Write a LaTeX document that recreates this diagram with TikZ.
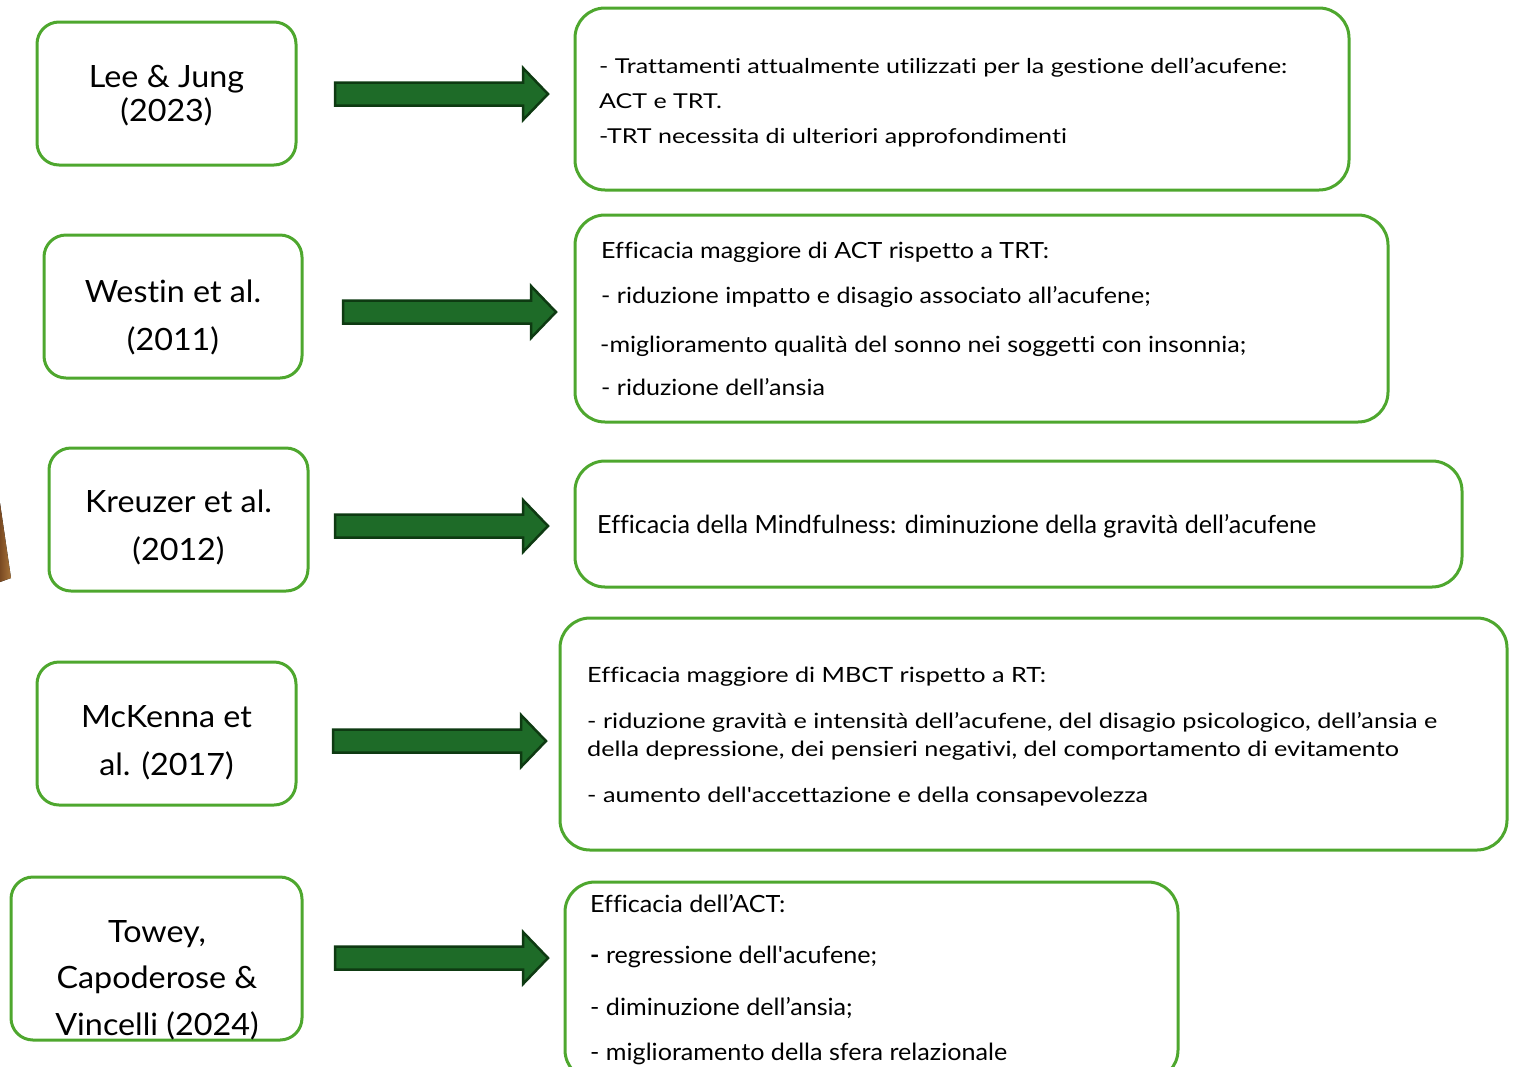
\documentclass[tikz,border=0pt]{standalone}
\usepackage{fontspec}
\setmainfont{Lato}[Ligatures={TeX,NoCommon}]
\usepackage{graphicx}
\definecolor{boxgreen}{HTML}{4EA72E}
\definecolor{arrfill}{HTML}{1E6B28}
\definecolor{arrline}{HTML}{0E3A12}
\definecolor{woodA}{HTML}{7A4A22}
\definecolor{woodB}{HTML}{A8743A}
\newlength\reflen
\newcommand\calcsx[3]{\settowidth\reflen{#2}\pgfmathsetmacro#1{#3/\reflen}}
\newcommand\stxt[3]{\scalebox{#2}[1]{\fontsize{#1}{#1}\selectfont #3}}
\AtBeginDocument{%
\calcsx\sL{\fontsize{30.7}{30.7}\selectfont Kreuzer et al.}{187}%
\calcsx\sA{\fontsize{20.5}{20.5}\selectfont - Trattamenti attualmente utilizzati per la gestione dell’acufene:}{688}%
\calcsx\sB{\fontsize{22.3}{22.3}\selectfont -miglioramento qualità del sonno nei soggetti con insonnia;}{646}%
\calcsx\sC{\fontsize{25}{25}\selectfont Efficacia della Mindfulness: diminuzione della gravità dell’acufene}{719}%
\calcsx\sD{\fontsize{21}{21}\selectfont - riduzione gravità e intensità dell’acufene, del disagio psicologico, dell’ansia e}{850}%
\calcsx\sE{\fontsize{23.7}{23.7}\selectfont - miglioramento della sfera relazionale}{417}%
}
\tikzset{
  lbox/.style={draw=boxgreen, line width=3pt, rounded corners=22pt, inner sep=0pt},
  rbox/.style={draw=boxgreen, line width=3pt, rounded corners=30pt, inner sep=0pt},
  rline/.style={anchor=base west, inner sep=0pt},
  lline/.style={anchor=base, inner sep=0pt},
  blockarr/.pic={\draw[draw=arrline, fill=arrfill, line width=2.5pt, line join=miter]
     (0,-11.5) -- (188,-11.5) -- (188,-26) -- (213,0) -- (188,26) -- (188,11.5) -- (0,11.5) -- cycle;}
}
\begin{document}
\begin{tikzpicture}[x=1pt,y=-1pt]
\useasboundingbox (0,0) rectangle (1514,1066);

% wood sliver
\fill[left color=woodA, right color=woodB] (0,503) -- (11,578) -- (0,582) -- cycle;

% left boxes
\node[lbox, minimum width=259pt, minimum height=143pt] (L1) at (166.5,93.5) {};
\node[lbox, minimum width=258pt, minimum height=143pt] (L2) at (173,306.5) {};
\node[lbox, minimum width=259pt, minimum height=143pt] (L3) at (178.5,519.5) {};
\node[lbox, minimum width=259pt, minimum height=143pt] (L4) at (166.5,733.5) {};
\node[lbox, minimum width=291pt, minimum height=163pt] (L5) at (156.5,958.5) {};

\node[lline] (L1a) at (166.5,87) {\stxt{30.7}{\sL}{Lee \& Jung}};
\node[lline] (L1b) at (166.5,121) {\stxt{30.7}{\sL}{(2023)}};
\node[lline] (L2a) at (173,302) {\stxt{30.7}{\sL}{Westin et al.}};
\node[lline] (L2b) at (173,350) {\stxt{30.7}{\sL}{(2011)}};
\node[lline] (L3a) at (178.5,512) {\stxt{30.7}{\sL}{Kreuzer et al.}};
\node[lline] (L3b) at (178.5,560) {\stxt{30.7}{\sL}{(2012)}};
\node[lline] (L4a) at (166.5,727) {\stxt{30.7}{\sL}{McKenna et}};
\node[lline] (L4b) at (166.5,775) {\stxt{30.7}{\sL}{al. (2017)}};
\node[lline] (L5a) at (157,942) {\stxt{30.7}{\sL}{Towey,}};
\node[lline] (L5b) at (157,988) {\stxt{30.7}{\sL}{Capoderose \&}};
\node[lline] (L5c) at (157,1035) {\stxt{30.7}{\sL}{Vincelli (2024)}};

% arrows
\pic at (335,94) {blockarr};
\pic at (343,312) {blockarr};
\pic at (335,526) {blockarr};
\pic at (333,741) {blockarr};
\pic at (335,958) {blockarr};

% right boxes
\node[rbox, minimum width=774pt, minimum height=182pt] (R1) at (962,99) {};
\node[rbox, minimum width=813pt, minimum height=207pt] (R2) at (981.5,318.5) {};
\node[rbox, minimum width=887pt, minimum height=126pt] (R3) at (1018.5,524) {};
\node[rbox, minimum width=947pt, minimum height=232pt] (R4) at (1033.5,734) {};
\begin{scope}
\clip (0,0) rectangle (1514,1066);
\node[rbox, minimum width=613pt, minimum height=198pt] (R5) at (871.5,981) {};
\end{scope}

\node[rline] (R1a) at (599,73) {\stxt{20.5}{\sA}{- Trattamenti attualmente utilizzati per la gestione dell’acufene:}};
\node[rline] (R1b) at (599,108) {\stxt{20.5}{\sA}{ACT e TRT.}};
\node[rline] (R1c) at (599,143) {\stxt{20.5}{\sA}{-TRT necessita di ulteriori approfondimenti}};

\node[rline] (R2a) at (601,258) {\stxt{22.3}{\sB}{Efficacia maggiore di ACT rispetto a TRT:}};
\node[rline] (R2b) at (601,303) {\stxt{22.3}{\sB}{- riduzione impatto e disagio associato all’acufene;}};
\node[rline] (R2c) at (600,352) {\stxt{22.3}{\sB}{-miglioramento qualità del sonno nei soggetti con insonnia;}};
\node[rline] (R2d) at (601,395) {\stxt{22.3}{\sB}{- riduzione dell’ansia}};

\node[rline] (R3a) at (597,533) {\stxt{25}{\sC}{Efficacia della Mindfulness: diminuzione della gravità dell’acufene}};

\node[rline] (R4a) at (587,682) {\stxt{21}{\sD}{Efficacia maggiore di MBCT rispetto a RT:}};
\node[rline] (R4b) at (587,728) {\stxt{21}{\sD}{- riduzione gravità e intensità dell’acufene, del disagio psicologico, dell’ansia e}};
\node[rline] (R4c) at (587,756) {\stxt{21}{\sD}{della depressione, dei pensieri negativi, del comportamento di evitamento}};
\node[rline] (R4d) at (587,802) {\stxt{21}{\sD}{- aumento dell\textquotesingle accettazione e della consapevolezza}};

\node[rline] (R5a) at (590,912) {\stxt{23.7}{\sE}{Efficacia dell’ACT:}};
\node[rline] (R5b) at (590,963) {\stxt{23.7}{\sE}{\textbf{-} regressione dell\textquotesingle acufene;}};
\node[rline] (R5c) at (590,1015) {\stxt{23.7}{\sE}{- diminuzione dell’ansia;}};
\node[rline] (R5d) at (590,1060) {\stxt{23.7}{\sE}{- miglioramento della sfera relazionale}};
\end{tikzpicture}
\end{document}
